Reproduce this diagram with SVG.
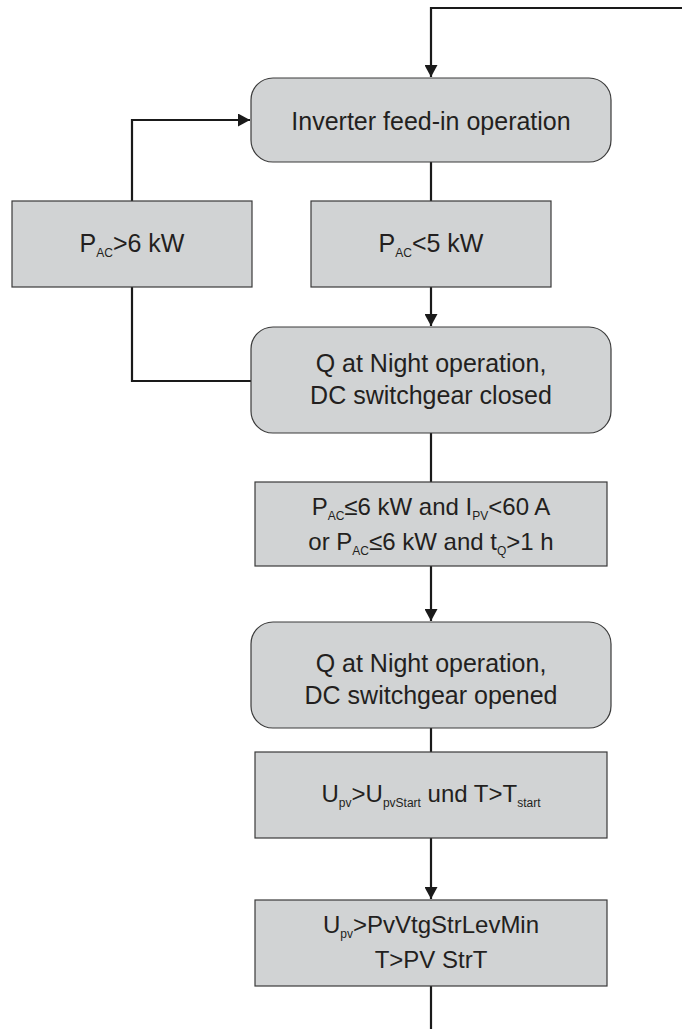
<svg xmlns="http://www.w3.org/2000/svg" width="682" height="1029" viewBox="0 0 682 1029">
<style>
.state{fill:#d1d3d4;stroke:#3a3a3a;stroke-width:1.2}
.cond{fill:#d1d3d4;stroke:#3a3a3a;stroke-width:1.2}
.conn{fill:none;stroke:#1a1a1a;stroke-width:2.2}
text{font-family:"Liberation Sans",Arial,sans-serif;fill:#231f20;text-anchor:middle}
.t{font-size:25px}
.c{font-size:24px}
.s{font-size:12px}
</style>
<defs>
<marker id="ah" markerUnits="userSpaceOnUse" markerWidth="12" markerHeight="13" refX="12" refY="6.5" orient="auto">
<path d="M0,0 L12,6.5 L0,13 Z" fill="#1a1a1a"/>
</marker>
</defs>
<g id="connectors">
<path class="conn" d="M682,8 H431 V77" marker-end="url(#ah)"/>
<path class="conn" d="M431,162 V201"/>
<path class="conn" d="M431,287 V326" marker-end="url(#ah)"/>
<path class="conn" d="M251,381 H132 V287"/>
<path class="conn" d="M132,201 V120 H250" marker-end="url(#ah)"/>
<path class="conn" d="M431,433 V482"/>
<path class="conn" d="M431,566 V621" marker-end="url(#ah)"/>
<path class="conn" d="M431,728 V752"/>
<path class="conn" d="M431,838 V899" marker-end="url(#ah)"/>
<path class="conn" d="M431,986 V1029"/>
</g>
<g id="inverter">
<rect class="state" x="251" y="78" width="360" height="84" rx="22" ry="22"/>
<text class="t" x="431" y="130">Inverter feed-in operation</text>
</g>
<g id="pac-gt-6">
<rect class="cond" x="12" y="201" width="240" height="86"/>
<text class="t" x="132" y="252">P<tspan class="s" dy="5">AC</tspan><tspan dy="-5">&gt;6 kW</tspan></text>
</g>
<g id="pac-lt-5">
<rect class="cond" x="311" y="201" width="240" height="86"/>
<text class="t" x="431" y="252">P<tspan class="s" dy="5">AC</tspan><tspan dy="-5">&lt;5 kW</tspan></text>
</g>
<g id="q-closed">
<rect class="state" x="251" y="327" width="360" height="106" rx="22" ry="22"/>
<text class="t" x="431" y="372">Q at Night operation,</text>
<text class="t" x="431" y="404">DC switchgear closed</text>
</g>
<g id="cond-open">
<rect class="cond" x="255" y="482" width="352" height="84"/>
<text class="c" x="431" y="515">P<tspan class="s" dy="5">AC</tspan><tspan dy="-5">≤6 kW and I</tspan><tspan class="s" dy="5">PV</tspan><tspan dy="-5">&lt;60 A</tspan></text>
<text class="c" x="431" y="550">or P<tspan class="s" dy="5">AC</tspan><tspan dy="-5">≤6 kW and t</tspan><tspan class="s" dy="5">Q</tspan><tspan dy="-5">&gt;1 h</tspan></text>
</g>
<g id="q-opened">
<rect class="state" x="251" y="622" width="360" height="106" rx="22" ry="22"/>
<text class="t" x="431" y="672">Q at Night operation,</text>
<text class="t" x="431" y="704">DC switchgear opened</text>
</g>
<g id="upv-start">
<rect class="cond" x="255" y="752" width="352" height="86"/>
<text class="c" x="431" y="802">U<tspan class="s" dy="5">pv</tspan><tspan dy="-5">&gt;U</tspan><tspan class="s" dy="5">pvStart</tspan><tspan dy="-5"> und T&gt;T</tspan><tspan class="s" dy="5">start</tspan></text>
</g>
<g id="upv-min">
<rect class="cond" x="255" y="900" width="352" height="86"/>
<text class="c" x="431" y="933">U<tspan class="s" dy="5">pv</tspan><tspan dy="-5">&gt;PvVtgStrLevMin</tspan></text>
<text class="c" x="431" y="968">T&gt;PV StrT</text>
</g>
</svg>
